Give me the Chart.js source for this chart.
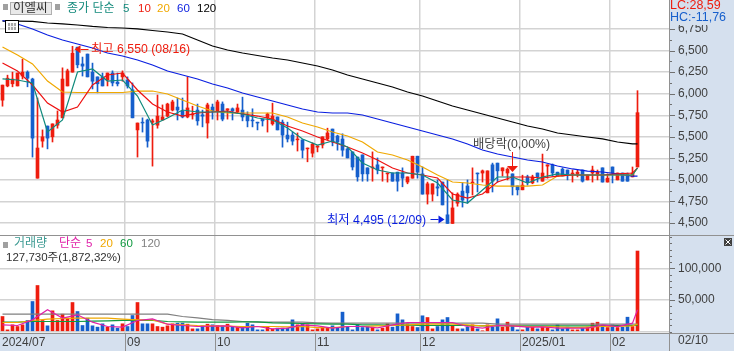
<!DOCTYPE html>
<html>
<head>
<meta charset="utf-8">
<style>
html, body { margin: 0; padding: 0; background: #fff; }
canvas { display: block; }
</style>
<script src="https://cdn.jsdelivr.net/npm/chart.js@4/dist/chart.umd.min.js"></script>
</head>
<body>
<canvas id="stockChart" width="734" height="351"></canvas>
<script>
// candles, oldest first
const open = [5925,6090,6115,6090,6205,6250,6170,5020,5450,5625,
    5500,5635,5720,6090,6250,6540,6345,6460,6250,6195,
    6195,6160,6240,6135,6195,6160,6045,5580,5670,5695,
    5670,5635,5695,5740,5810,5845,5800,5730,5755,5810,
    5755,5660,5845,5800,5880,5810,5825,5790,5810,5740,
    5695,5670,5705,5720,5650,5730,5670,5520,5520,5465,
    5465,5360,5310,5380,5405,5475,5590,5510,5475,5360,
    5325,5265,5290,5140,5140,5175,5140,5070,5080,5090,
    5080,4975,5020,5275,5070,4835,4835,4920,4975,4595,
    4495,4730,4870,4930,4965,5080,5080,4850,5175,5195,
    5105,5080,5070,4930,4885,5035,4965,5080,4985,5160,
    5175,5090,5125,5115,5070,5070,5115,5000,5080,5070,
    5140,4975,5150,5000,5080,5070,5035,5150];
const high = [6100,6215,6250,6240,6400,6265,6180,5950,5580,5625,
    5650,5800,6300,6285,6550,6540,6425,6460,6355,6195,
    6240,6240,6265,6240,6265,6195,6125,5660,5720,5705,
    5705,5985,5870,5890,5925,5950,5950,6195,5855,5880,
    5810,5890,5880,5925,5905,5825,5835,5880,5960,5790,
    5825,5670,5705,5775,5890,5730,5695,5670,5555,5545,
    5465,5370,5430,5395,5500,5600,5590,5520,5535,5370,
    5325,5265,5290,5140,5325,5255,5150,5080,5080,5090,
    5140,5035,5275,5275,5150,4975,4955,5000,4975,5000,
    4850,4850,4965,5000,5140,5080,5115,5105,5195,5195,
    5140,5140,5070,4930,5055,5055,5055,5080,5300,5175,
    5185,5090,5140,5115,5115,5115,5115,5055,5160,5115,
    5140,5070,5150,5080,5080,5080,5150,6035];
const low = [5855,6080,6080,6090,6170,6080,5265,5020,5380,5360,
    5440,5600,5720,6090,6250,6300,6205,6195,6055,6010,
    6090,6090,6090,6090,6145,6065,5720,5265,5555,5380,
    5160,5600,5695,5730,5800,5695,5720,5720,5705,5635,
    5615,5485,5705,5695,5685,5705,5695,5775,5685,5615,
    5615,5580,5625,5555,5635,5580,5380,5440,5405,5335,
    5255,5210,5265,5325,5370,5465,5395,5345,5275,5255,
    5115,4985,4985,4985,4985,5070,4985,4975,4985,4870,
    4920,4955,5020,5020,4835,4720,4755,4815,4710,4495,
    4495,4695,4685,4730,4825,4860,4975,4850,4860,4975,
    5045,5000,4825,4825,4885,4940,4955,4975,4985,5020,
    5045,5045,5045,5000,4975,5035,4975,5000,4975,5000,
    4975,4975,4965,5000,4985,4985,5035,5150];
const close = [6100,6180,6170,6240,6250,6180,5485,5370,5500,5485,
    5650,5695,6170,6265,6470,6335,6320,6195,6145,6115,
    6090,6240,6125,6115,6240,6090,5720,5660,5660,5450,
    5685,5740,5730,5880,5905,5810,5730,5835,5765,5685,
    5740,5870,5800,5905,5705,5825,5800,5835,5730,5685,
    5685,5660,5685,5765,5740,5580,5520,5475,5450,5475,
    5345,5370,5415,5395,5500,5545,5440,5440,5345,5255,
    5150,5035,5070,5070,5150,5115,5150,5080,4985,4985,
    5020,5035,5275,5090,4835,4955,4955,4905,4710,4495,
    4675,4835,4765,4850,4975,5070,5105,5105,4985,5105,
    5140,5125,4920,4885,4940,4975,5035,5035,5080,5175,
    5080,5045,5045,5070,5080,5090,4985,5055,5115,5090,
    4975,5020,5080,5080,4985,4985,5080,5780];
const volume = [23800,2600,10600,7900,10600,17500,47600,73000,17500,9000,
    32800,17500,27500,21200,46000,31700,9500,21200,9000,6900,
    12200,6900,10600,5300,12200,7900,25400,46000,12200,12200,
    12200,7900,6900,9000,12200,13200,13200,11600,4200,4200,
    9000,11600,10600,9500,9000,11600,6900,6900,6900,13200,
    10600,2600,2600,6900,3700,5300,5300,5300,18500,10600,
    12200,10600,2600,4200,6900,6300,9000,6300,30700,6900,
    2600,10600,6300,7900,6900,2600,5300,12200,6900,28000,
    18500,12200,7900,6300,24900,22200,4200,7900,18500,22200,
    9000,4200,4200,6900,10600,4200,1100,10600,6900,20100,
    6900,14800,9000,2600,2600,7900,6900,4200,7900,6300,
    2600,10600,4200,6900,2600,2600,5300,6900,13200,14800,
    6900,6300,10600,6300,6900,22700,7900,127730];

// moving averages, read at these candle positions
const lineIdx = [0,3,6,9,12,15,18,21,24,27,30,33,36,39,42,45,48,51,54,57,60,63,66,69,72,75,78,81,84,87,90,93,96,99,102,105,108,111,114,117,120,123,126,127];
const ma5 = [6171,6159,6124,5556,5695,6252,6287,6147,6159,5973,5637,5718,5811,5788,5788,5788,5765,5718,5695,5602,5475,5405,5451,5382,5196,5115,5080,5080,5057,4964,4767,4732,4883,5034,5034,4964,5034,5069,5057,5057,5057,5057,5057,5138];
const ma10 = [6356,6263,6101,5892,5788,5846,6101,6217,6240,6043,5881,5788,5741,5776,5788,5799,5765,5741,5707,5625,5567,5498,5440,5382,5312,5231,5138,5080,5057,5022,4837,4790,4837,4976,5034,5034,5022,5045,5057,5057,5057,5069,5080,5138];
const ma20 = [6542,6449,6345,6147,6020,6014,6014,6014,6014,6031,6031,5997,5927,5857,5799,5776,5776,5776,5776,5730,5660,5614,5556,5509,5440,5324,5289,5231,5150,5057,4976,4964,4941,4929,4929,4929,4941,5045,5057,5057,5057,5057,5057,5138];
const ma60 = [6849,6809,6751,6681,6623,6577,6530,6472,6437,6391,6333,6263,6217,6171,6113,6066,6008,5962,5915,5869,5823,5788,5776,5776,5753,5707,5660,5614,5567,5521,5475,5417,5347,5301,5266,5231,5208,5161,5127,5103,5092,5069,5045,5045];
const ma120 = [6843,6843,6838,6820,6809,6797,6780,6768,6762,6751,6733,6716,6693,6623,6553,6507,6472,6443,6414,6391,6356,6321,6275,6217,6171,6124,6078,6020,5973,5915,5857,5811,5765,5718,5672,5625,5591,5544,5521,5498,5475,5440,5417,5417];
const volMa5 = [10600,9500,18500,34400,21200,26500,14800,7900,6900,17500,20100,11600,9500,7900,8500,9000,5800,7900,4200,5300,10600,9000,5300,7900,7900,5800,10600,14300,14300,14300,14300,7900,5300,9500,9000,6900,7400,5300,5300,5300,10600,7900,13200,34400];
const volMa20 = [14300,14300,17500,19600,20600,21200,21200,21200,19600,18500,18500,11600,10600,9500,9000,8500,7900,7900,7900,7400,7900,6300,6300,7900,7900,9000,9500,10600,11600,11600,11600,10600,9000,9500,9000,7900,7900,7400,6300,6900,7900,7900,9000,11600];
const volMa60 = [14800,14800,15900,15900,15900,15900,16400,16900,17500,17500,17500,15900,15300,14800,14800,14800,15300,15300,13800,13200,12700,12200,11600,11600,10600,10600,10100,10100,9500,9500,9500,9500,9000,9500,9000,9000,9000,9000,9000,9000,9500,9500,9500,9500];
const volMa120 = [27500,27500,27500,27500,27500,27500,27500,27500,27500,27500,27500,27500,23800,21700,19000,17500,15900,14800,14800,14800,14800,13800,13200,13200,13200,13200,13200,13200,13200,13200,13200,13200,13200,11600,11600,11600,11600,11600,11600,11600,11600,11600,11600,11600];

const monthTicks = [-0.5,24.5,42.5,62.5,83.5,103.5,121.5];
const monthLabels = ['2024/07','09','10','11','12','2025/01','02'];
const lastDateLabel = '02/10';

const priceTicks = [4500,4625,4750,4875,5000,5125,5250,5375,5500,5625,5750,5875,6000,6125,6250,6375,6500,6625,6750,6875,7000];
const priceLabels = [4500,4750,5000,5250,5500,5750,6000,6250,6500,6750];
const volumeTicks = [0,10000,20000,30000,40000,50000,60000,70000,80000,90000,100000,110000,120000,130000,140000,150000];
const volumeLabels = [50000,100000];

const UP = '#ee1c0e';
const DOWN = '#165fcc';
const GRID = '#d3d3d3';
const AXIS = '#919191';
const BAND = '#d5e0ee';
const FONT = '"Liberation Sans", "Noto Sans CJK KR", sans-serif';

const candleColors = close.map((c, i) => c >= open[i] ? UP : DOWN);
const candleX = close.map((c, i) => i);

function lineSet(values, axis, color, order, width) {
    return {
        type: 'line',
        data: lineIdx.map((i, k) => ({ x: i, y: values[k] })),
        yAxisID: axis,
        borderColor: color,
        borderWidth: width || 1.2,
        pointRadius: 0,
        tension: 0,
        order: order
    };
}

// stops the tick labels from pushing the plot area inwards
function noMargins(s) {
    s.paddingLeft = 0;
    s.paddingRight = 0;
    s.paddingTop = 0;
    s.paddingBottom = 0;
}

const overlay = {
    id: 'overlay',
    beforeDraw(chart) {
        const c = chart.ctx, a = chart.chartArea;
        c.save();
        c.fillStyle = BAND;
        c.fillRect(a.right, 0, chart.width - a.right, chart.height);
        c.fillRect(0, a.bottom, chart.width, chart.height - a.bottom);
        c.restore();
    },
    afterDraw(chart) {
        const c = chart.ctx;
        const px = chart.scales.x, py = chart.scales.yPrice, vy = chart.scales.yVol;
        const split = Math.round(py.bottom) + 0.5;

        function txt(s, x, y, color, size) {
            c.font = (size || 12) + 'px ' + FONT;
            c.fillStyle = color;
            c.textAlign = 'left';
            c.textBaseline = 'middle';
            c.fillText(s, x, y);
        }
        function hline(x1, x2, y, color) {
            c.strokeStyle = color;
            c.lineWidth = 1;
            c.beginPath();
            c.moveTo(x1, y);
            c.lineTo(x2, y);
            c.stroke();
        }
        function vline(x, y1, y2, color) {
            c.strokeStyle = color;
            c.lineWidth = 1;
            c.beginPath();
            c.moveTo(x, y1);
            c.lineTo(x, y2);
            c.stroke();
        }
        function tri(x1, y1, x2, y2, x3, y3, color) {
            c.fillStyle = color;
            c.beginPath();
            c.moveTo(x1, y1);
            c.lineTo(x2, y2);
            c.lineTo(x3, y3);
            c.closePath();
            c.fill();
        }

        c.save();

        // panel frames
        hline(0, chart.width, split, AXIS);
        hline(0, chart.width, 333.5, AXIS);
        vline(669.5, 0, chart.height, AXIS);
        monthTicks.slice(1).forEach(t => {
            vline(Math.round(px.getPixelForValue(t)) + 0.5, 334, chart.height, AXIS);
        });

        // axis tick marks
        priceTicks.forEach(t => {
            const y = Math.round(py.getPixelForValue(t)) + 0.5;
            if (y > split - 2) return;
            hline(670, priceLabels.includes(t) ? 675 : 672, y, '#707070');
        });
        volumeTicks.forEach(t => {
            const y = Math.round(vy.getPixelForValue(t)) + 0.5;
            hline(670, volumeLabels.includes(t) ? 675 : 672, y, '#707070');
        });
        txt(lastDateLabel, 678, 341, '#404040', 12);

        // top legend
        c.fillStyle = '#a0a0a0';
        c.fillRect(3, 4, 5, 6);
        c.fillStyle = '#e9e9e9';
        c.fillRect(10, 2, 42, 13);
        c.strokeStyle = '#b0b0b0';
        c.strokeRect(10.5, 2.5, 41, 12);
        txt('이엘씨', 13, 9, '#303030', 12.5);
        c.fillStyle = '#a0a0a0';
        c.fillRect(55, 4, 5, 6);
        txt('종가 단순', 67, 9, '#138a7c', 12);
        txt('5', 123, 9, '#138a7c', 11.5);
        txt('10', 138, 9, '#ee1c0e', 11.5);
        txt('20', 157, 9, '#f0a800', 11.5);
        txt('60', 177, 9, '#0a1fe0', 11.5);
        txt('120', 197, 9, '#000000', 11.5);

        // little table button
        c.fillStyle = '#ffffff';
        c.fillRect(5, 20, 14, 13);
        c.strokeStyle = '#000000';
        c.strokeRect(5.5, 20.5, 13, 12);
        c.fillStyle = '#a8a8a8';
        c.fillRect(8, 23, 8, 7);
        vline(10.5, 23, 30, '#f0f0f0');
        vline(13.5, 23, 30, '#f0f0f0');
        hline(8, 16, 26.5, '#f0f0f0');

        // high / low marks
        const hiX = px.getPixelForValue(14) + 2;
        const hiY = py.getPixelForValue(high[14]) + 4;
        tri(hiX, hiY - 1, hiX + 6, hiY - 5, hiX + 6, hiY + 3, UP);
        hline(hiX + 6, hiX + 14, Math.round(hiY) - 0.5, UP);
        txt('최고 6,550 (08/16)', 91, 50, UP, 12.3);

        const loX = px.getPixelForValue(89) - 3;
        const loY = py.getPixelForValue(low[89]) - 4;
        tri(loX, loY, loX - 6, loY - 4, loX - 6, loY + 4, '#0a1fe0');
        hline(loX - 14, loX - 6, Math.round(loY) + 0.5, '#0a1fe0');
        txt('최저 4,495 (12/09)', 327, 221, '#0a1fe0', 12.3);

        // ex-dividend mark
        txt('배당락(0,00%)', 473, 145, '#404040', 12.3);
        vline(512.5, 152, 166, UP);
        tri(507, 166, 518, 166, 512.5, 172, UP);

        // volume legend
        c.fillStyle = '#a0a0a0';
        c.fillRect(3, 242, 5, 6);
        txt('거래량', 14, 244, '#3c9a92', 12);
        txt('단순', 59, 244, '#e020a8', 12);
        txt('5', 86, 244, '#e020a8', 11.5);
        txt('20', 100, 244, '#f0a800', 11.5);
        txt('60', 120, 244, '#109a40', 11.5);
        txt('120', 141, 244, '#808080', 11.5);
        txt('127,730주(1,872,32%)', 6, 258, '#303030', 11.5);

        // expand button
        c.fillStyle = '#404040';
        c.fillRect(724, 238, 8, 8);
        c.strokeStyle = '#ffffff';
        c.beginPath();
        c.moveTo(725.5, 239.5);
        c.lineTo(730.5, 244.5);
        c.moveTo(730.5, 239.5);
        c.lineTo(725.5, 244.5);
        c.stroke();

        // change readout sits on top of the scale
        c.fillStyle = BAND;
        c.fillRect(670, 0, 64, 25);
        txt('LC:28,59', 670, 6, UP, 12.5);
        txt('HC:-11,76', 670, 18, '#165fcc', 12.5);

        c.restore();
    }
};

new Chart(document.getElementById('stockChart'), {
    data: {
        datasets: [
            lineSet(ma5, 'yPrice', '#0f8a7c', 1),
            lineSet(ma10, 'yPrice', '#ee1010', 2),
            lineSet(ma20, 'yPrice', '#f0a800', 3),
            lineSet(ma60, 'yPrice', '#0a1fe0', 4),
            lineSet(ma120, 'yPrice', '#000000', 5),
            lineSet(volMa5, 'yVol', '#e020a8', 6),
            lineSet(volMa20, 'yVol', '#f0a800', 7),
            lineSet(volMa60, 'yVol', '#109a40', 8),
            lineSet(volMa120, 'yVol', '#808080', 9),
            {
                type: 'bar',
                data: candleX.map(i => ({ x: i, y: [open[i], close[i]] })),
                yAxisID: 'yPrice',
                backgroundColor: candleColors,
                barThickness: 3,
                grouped: false,
                order: 10
            },
            {
                type: 'bar',
                data: candleX.map(i => ({ x: i, y: [low[i], high[i]] })),
                yAxisID: 'yPrice',
                backgroundColor: candleColors,
                barThickness: 1,
                grouped: false,
                order: 11
            },
            {
                type: 'bar',
                data: candleX.map(i => ({ x: i, y: volume[i] })),
                yAxisID: 'yVol',
                backgroundColor: candleColors,
                barThickness: 3,
                grouped: false,
                order: 12
            }
        ]
    },
    options: {
        responsive: false,
        animation: false,
        layout: { padding: 0 },
        plugins: {
            legend: { display: false },
            tooltip: { enabled: false }
        },
        scales: {
            x: {
                type: 'linear',
                position: 'bottom',
                offset: false,
                min: -0.5,
                max: 133.3,
                afterFit: s => { s.height = 18; noMargins(s); },
                afterBuildTicks: s => { s.ticks = monthTicks.map(v => ({ value: v })); },
                grid: {
                    offset: false,
                    color: ctx => ctx.index === 0 ? 'transparent' : GRID,
                    lineWidth: 1.5,
                    drawTicks: false
                },
                border: { display: false },
                ticks: {
                    autoSkip: false,
                    maxRotation: 0,
                    align: 'start',
                    labelOffset: 2,
                    padding: 2,
                    color: '#404040',
                    font: { family: FONT, size: 12 },
                    callback: (v, i) => monthLabels[i]
                }
            },
            yPrice: {
                type: 'linear',
                position: 'right',
                stack: 'panels',
                stackWeight: 235,
                min: 4361,
                max: 7087,
                afterFit: s => { s.width = 65; noMargins(s); },
                afterBuildTicks: s => { s.ticks = priceTicks.map(v => ({ value: v })); },
                grid: {
                    color: ctx => priceLabels.includes(ctx.tick.value) ? GRID : 'transparent',
                    lineWidth: 1.5,
                    drawTicks: false
                },
                border: { display: false },
                ticks: {
                    autoSkip: false,
                    padding: 9,
                    color: '#404040',
                    font: { family: FONT, size: 12 },
                    callback: v => priceLabels.includes(v) ? v.toLocaleString('en-US') : ''
                }
            },
            yVol: {
                type: 'linear',
                position: 'right',
                stack: 'panels',
                stackWeight: 98,
                min: -2380,
                max: 153146,
                afterFit: s => { s.width = 65; noMargins(s); },
                afterBuildTicks: s => { s.ticks = volumeTicks.map(v => ({ value: v })); },
                grid: {
                    color: ctx => (ctx.tick.value === 0 || volumeLabels.includes(ctx.tick.value)) ? GRID : 'transparent',
                    lineWidth: 1.5,
                    drawTicks: false
                },
                border: { display: false },
                ticks: {
                    autoSkip: false,
                    padding: 9,
                    color: '#404040',
                    font: { family: FONT, size: 12 },
                    callback: v => volumeLabels.includes(v) ? v.toLocaleString('en-US') : ''
                }
            }
        }
    },
    plugins: [overlay]
});
</script>
</body>
</html>
